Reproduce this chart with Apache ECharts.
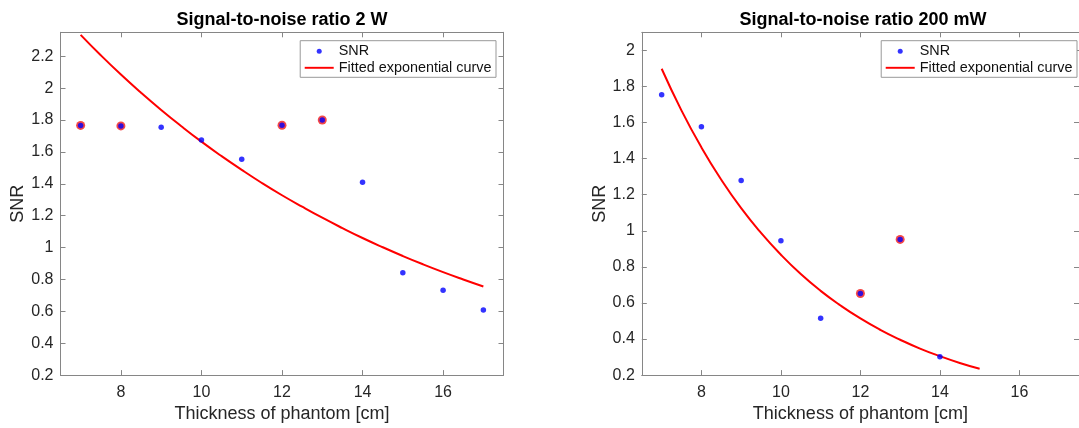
<!DOCTYPE html>
<html>
<head>
<meta charset="utf-8">
<script src="https://cdn.jsdelivr.net/npm/echarts@6/dist/echarts.min.js"></script>
<style>
  html, body { margin: 0; padding: 0; background: #ffffff; }
  #chart { width: 1079px; height: 428px; }
</style>
</head>
<body>
<div id="chart"></div>
<script>
// ---------- Data ----------
const titles = ['Signal-to-noise ratio 2 W', 'Signal-to-noise ratio 200 mW'];
const xAxisLabel = 'Thickness of phantom [cm]';
const yAxisLabel = 'SNR';
const legendNames = ['SNR', 'Fitted exponential curve'];

const xTicks = [8, 10, 12, 14, 16];
const yTicks2W = [0.2, 0.4, 0.6, 0.8, 1, 1.2, 1.4, 1.6, 1.8, 2, 2.2];
const yTicks200mW = [0.2, 0.4, 0.6, 0.8, 1, 1.2, 1.4, 1.6, 1.8, 2];

// 2 W measurements
const thickness2W = [7, 8, 9, 10, 11, 12, 13, 14, 15, 16, 17];
const snr2W = [1.766, 1.763, 1.755, 1.675, 1.554, 1.767, 1.800, 1.409, 0.842, 0.732, 0.609];
// highlighted (circled) points, 2 W
const circledX2W = [7, 8, 12, 13];
const circledY2W = [1.766, 1.763, 1.767, 1.800];
// fitted curve, 2 W
const fitX2W = [7, 7.5, 8, 8.5, 9, 9.5, 10, 10.5, 11, 11.5, 12, 12.5, 13, 13.5, 14, 14.5, 15, 15.5, 16, 16.5, 17];
const fitY2W = [2.334, 2.206, 2.085, 1.971, 1.863, 1.761, 1.664, 1.573, 1.487, 1.405, 1.328, 1.256, 1.187, 1.122, 1.060, 1.002, 0.947, 0.895, 0.846, 0.800, 0.756];

// 200 mW measurements
const thickness200mW = [7, 8, 9, 10, 11, 12, 13, 14];
const snr200mW = [1.754, 1.576, 1.278, 0.945, 0.515, 0.652, 0.952, 0.302];
// highlighted (circled) points, 200 mW
const circledX200mW = [12, 13];
const circledY200mW = [0.652, 0.952];
// fitted curve, 200 mW
const fitX200mW = [7, 7.5, 8, 8.5, 9, 9.5, 10, 10.5, 11, 11.5, 12, 12.5, 13, 13.5, 14, 14.5, 15];
const fitY200mW = [1.898, 1.666, 1.462, 1.283, 1.125, 0.988, 0.867, 0.760, 0.667, 0.586, 0.514, 0.451, 0.396, 0.347, 0.305, 0.267, 0.235];

// ---------- Helpers ----------
const zip = (xs, ys) => xs.map((x, i) => [x, ys[i]]);
const FONT = "'Liberation Sans', Arial, Helvetica, sans-serif";
const AXIS_COLOR = '#868686';
const LABEL_COLOR = '#262626';
const fmt = v => String(Math.round(v * 100) / 100);

function xAxes(gridIndex) {
  const common = {
    type: 'value', gridIndex: gridIndex, min: 6.5, max: 17.5,
    splitLine: { show: false },
    axisLine: { show: true, onZero: false, lineStyle: { color: AXIS_COLOR, width: 1 } }
  };
  return [
    Object.assign({}, common, {
      position: 'bottom',
      name: xAxisLabel, nameLocation: 'middle', nameGap: 26,
      nameTextStyle: { fontFamily: FONT, fontSize: 18, color: LABEL_COLOR },
      axisTick: { show: true, inside: true, length: 5, customValues: xTicks, lineStyle: { color: AXIS_COLOR } },
      axisLabel: { show: true, customValues: xTicks, margin: 9, fontFamily: FONT, fontSize: 16, color: LABEL_COLOR, formatter: fmt }
    }),
    Object.assign({}, common, {
      position: 'top',
      axisTick: { show: true, inside: true, length: 5, customValues: xTicks, lineStyle: { color: AXIS_COLOR } },
      axisLabel: { show: false }
    })
  ];
}

function yAxes(gridIndex, max, ticks) {
  const common = {
    type: 'value', gridIndex: gridIndex, min: 0.2, max: max,
    splitLine: { show: false },
    axisLine: { show: true, onZero: false, lineStyle: { color: AXIS_COLOR, width: 1 } }
  };
  return [
    Object.assign({}, common, {
      position: 'left',
      name: yAxisLabel, nameLocation: 'middle', nameGap: 31, nameRotate: 90,
      nameTextStyle: { fontFamily: FONT, fontSize: 18, color: LABEL_COLOR },
      axisTick: { show: true, inside: true, length: 5, customValues: ticks, lineStyle: { color: AXIS_COLOR } },
      axisLabel: { show: true, customValues: ticks, margin: 7, fontFamily: FONT, fontSize: 16, color: LABEL_COLOR, formatter: fmt }
    }),
    Object.assign({}, common, {
      position: 'right',
      axisTick: { show: true, inside: true, length: 5, customValues: ticks, lineStyle: { color: AXIS_COLOR } },
      axisLabel: { show: false }
    })
  ];
}

function seriesFor(axisIdx, xs, ys, cx, cy, fx, fy) {
  return [
    {
      name: 'circled', type: 'scatter', xAxisIndex: axisIdx, yAxisIndex: axisIdx,
      data: zip(cx, cy), symbol: 'circle', symbolSize: 9,
      itemStyle: { color: 'rgba(240,0,0,0.9)' },
      z: 2, silent: true
    },
    {
      name: legendNames[1], type: 'line', xAxisIndex: axisIdx, yAxisIndex: axisIdx,
      data: zip(fx, fy), smooth: true, symbol: 'none', showSymbol: false,
      lineStyle: { color: '#ff0000', width: 2 }, itemStyle: { color: '#ff0000' },
      z: 3, silent: true
    },
    {
      name: legendNames[0], type: 'scatter', xAxisIndex: axisIdx, yAxisIndex: axisIdx,
      data: zip(xs, ys), symbol: 'circle', symbolSize: 5.5,
      itemStyle: { color: '#0000ff' },
      z: 4, silent: true
    }
  ];
}

function legendAt(rightPos) {
  return {
    orient: 'vertical', right: rightPos, top: 40.7,
    backgroundColor: '#ffffff', borderColor: '#999999', borderWidth: 1, borderRadius: 0,
    padding: [3.5, 4.5, 2.5, 4.5], itemGap: 2.6, itemWidth: 29, itemHeight: 5,
    selectedMode: false,
    textStyle: { fontFamily: FONT, fontSize: 14.4, color: '#111111' },
    data: [
      { name: legendNames[0], icon: 'circle', itemStyle: { color: '#0000ff' } },
      { name: legendNames[1], icon: 'path://M0,0 L15,0 L15,1 L0,1 Z', itemStyle: { color: '#ff0000' } }
    ]
  };
}

const chart = echarts.init(document.getElementById('chart'), null, { renderer: 'canvas' });

const option = {
  backgroundColor: '#ffffff',
  animation: false,
  title: [
    { text: titles[0], left: 282, top: 11, textAlign: 'center', padding: 0,
      textStyle: { fontFamily: FONT, fontSize: 18, fontWeight: 'bold', color: '#000000' } },
    { text: titles[1], left: 863, top: 11, textAlign: 'center', padding: 0,
      textStyle: { fontFamily: FONT, fontSize: 18, fontWeight: 'bold', color: '#000000' } }
  ],
  legend: [legendAt(583), legendAt(2)],
  grid: [
    { left: 60.5, top: 32.3, width: 443, height: 348.7, containLabel: false },
    { left: 641.8, top: 32.3, width: 442.7, height: 348.7, containLabel: false }
  ],
  xAxis: xAxes(0).concat(xAxes(1)),
  yAxis: yAxes(0, 2.35, yTicks2W).concat(yAxes(1, 2.1, yTicks200mW)),
  series: []
    .concat(seriesFor(0, thickness2W, snr2W, circledX2W, circledY2W, fitX2W, fitY2W))
    .concat(seriesFor(2, thickness200mW, snr200mW, circledX200mW, circledY200mW, fitX200mW, fitY200mW))
};

chart.setOption(option);
</script>
</body>
</html>
